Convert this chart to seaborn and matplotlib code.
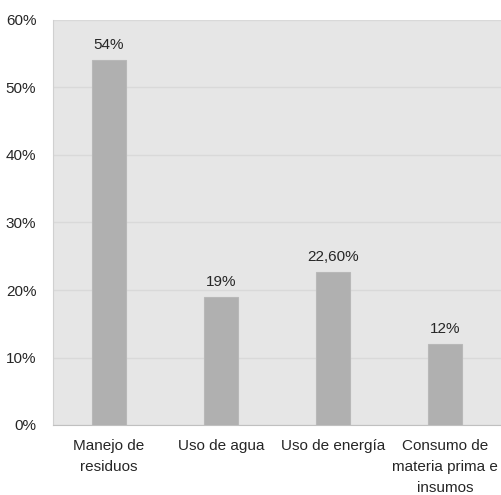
import numpy as np
import pandas as pd
import matplotlib.pyplot as plt
import seaborn as sns

categorias = ["Manejo de\nresiduos", "Uso de agua", "Uso de energía",
              "Consumo de\nmateria prima e\ninsumos"]
valores = [54, 19, 22.6, 12]
etiquetas = ["54%", "19%", "22,60%", "12%"]

sns.set_style("whitegrid")
plt.rcParams['font.family'] = ['Liberation Sans', 'DejaVu Sans']

df = pd.DataFrame({"categoria": categorias, "valor": valores})

fig = plt.figure(figsize=(5.01, 4.95), dpi=100)
ax = fig.add_axes([53 / 501, 70 / 495, 448 / 501, 405 / 495])
ax.set_facecolor('#e6e6e6')

sns.barplot(data=df, x="categoria", y="valor", color='#b0b0b0',
            width=0.31, saturation=1, edgecolor='#b8b8b8', linewidth=0.8, ax=ax)

for i, (v, lab) in enumerate(zip(valores, etiquetas)):
    ax.text(i, v + 1.2, lab, ha='center', va='bottom',
            fontsize=11, color='#262626')

ax.set_ylim(0, 60)
ax.set_xlim(-0.5, 3.5)
ax.set_yticks(range(0, 61, 10))
ax.set_yticklabels([f"{t}%" for t in range(0, 61, 10)])
ax.set_xlabel("")
ax.set_ylabel("")
ax.grid(axis='y', color='#d9d9d9', linewidth=1)
ax.grid(axis='x', visible=False)
ax.tick_params(axis='both', length=0, labelsize=11, labelcolor='#262626')
ax.tick_params(axis='y', pad=12)
ax.tick_params(axis='x', pad=10)
for t in ax.get_xticklabels():
    t.set_linespacing(1.65)
for s in ['top', 'right']:
    ax.spines[s].set_visible(False)
ax.spines['left'].set_color('#d0d0d0')
ax.spines['bottom'].set_color('#c0c0c0')

fig.savefig("out.png", dpi=100)
